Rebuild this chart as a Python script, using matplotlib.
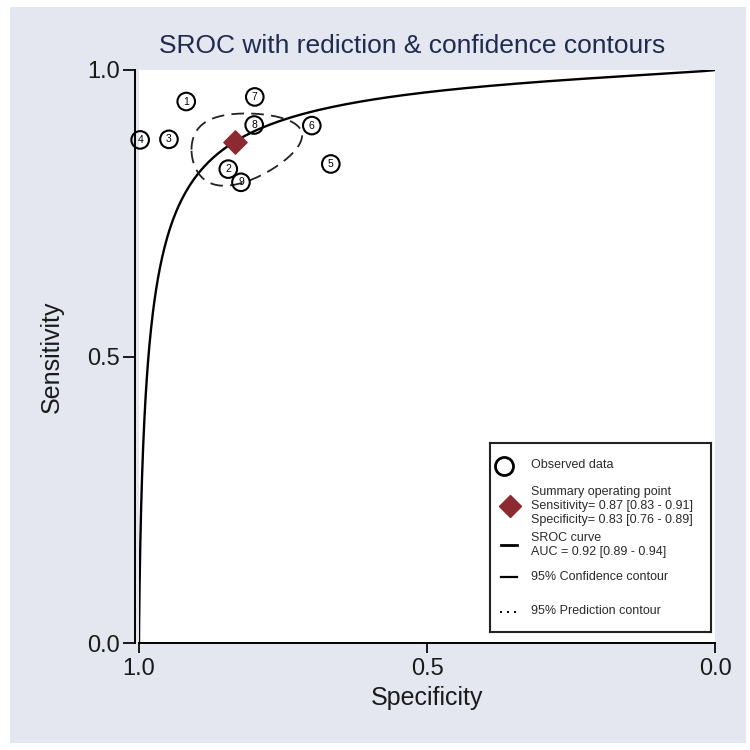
import numpy as np
import matplotlib
matplotlib.use("Agg")
import matplotlib.pyplot as plt
from matplotlib.patches import Rectangle

plt.rcParams['font.family'] = ['Liberation Sans', 'DejaVu Sans']

# ---------------- data ----------------
study_ids = [1, 2, 3, 4, 5, 6, 7, 8, 9]
specificity = [0.918, 0.845, 0.948, 0.998, 0.667, 0.700, 0.799, 0.800, 0.823]
sensitivity = [0.945, 0.827, 0.879, 0.878, 0.836, 0.903, 0.953, 0.904, 0.804]

summary_spec = 0.834
summary_sens = 0.874

# SROC curve: logit(sens) = alpha + beta * logit(1 - spec)
sroc_alpha = 3.21
sroc_beta = 0.784

# confidence contour (logit space)
se_logit_spec = 0.28
se_logit_sens = 0.23
rho_logit = -0.2
chi2_95_2df = 5.991

tick_values = [0.0, 0.5, 1.0]
tick_labels = ["0.0", "0.5", "1.0"]

title_text = "SROC with rediction & confidence contours"
legend_rows = [
    "Observed data",
    "Summary operating point\nSensitivity= 0.87 [0.83 - 0.91]\nSpecificity= 0.83 [0.76 - 0.89]",
    "SROC curve\nAUC = 0.92 [0.89 - 0.94]",
    "95% Confidence contour",
    "95% Prediction contour",
]

# ---------------- helpers ----------------
def logit(p):
    p = np.asarray(p, dtype=float)
    return np.log(p / (1 - p))

def expit(x):
    return 1 / (1 + np.exp(-x))

W, H = 750, 750
fig = plt.figure(figsize=(7.5, 7.5), dpi=100, facecolor='white')

# gray panel background
fig.patches.append(Rectangle((10 / W, 1 - 743 / H), 736 / W, 736 / H,
                             transform=fig.transFigure, facecolor='#e4e7ef',
                             edgecolor='none', zorder=-10))

ax = fig.add_axes([139 / W, 1 - 643 / H, 576 / W, 573 / H])
ax.set_facecolor('white')
ax.set_xlim(1.0, 0.0)
ax.set_ylim(0.0, 1.0)

for s in ['top', 'right']:
    ax.spines[s].set_visible(False)
ax.spines['left'].set_position(('outward', 3))
ax.spines['left'].set_linewidth(1.4)
ax.spines['bottom'].set_linewidth(1.4)

ax.set_xticks(tick_values)
ax.set_xticklabels(tick_labels)
ax.set_yticks(tick_values)
ax.set_yticklabels(tick_labels)
ax.tick_params(axis='y', length=8.5, width=1.4, labelsize=17, pad=2, colors='#1a1a1a')
ax.tick_params(axis='x', length=7, width=1.4, labelsize=17, pad=4, colors='#1a1a1a')

ax.set_xlabel("Specificity", fontsize=18, color='#1a1a1a', labelpad=4)
ax.set_ylabel("Sensitivity", fontsize=18, color='#1a1a1a', labelpad=17)

fig.text(412 / W, 1 - 46 / H, title_text, ha='center', va='center',
         fontsize=19, color='#1f2b4f')

# SROC curve
lfpr = np.linspace(-16, 12, 800)
fpr = expit(lfpr)
curve_sens = expit(sroc_alpha + sroc_beta * lfpr)
ax.plot(1 - fpr, curve_sens, color='black', lw=1.7, zorder=3, clip_on=True)

# confidence contour
t = np.linspace(0, 2 * np.pi, 400)
c = np.sqrt(chi2_95_2df)
ex = logit(summary_spec) + c * se_logit_spec * np.cos(t)
ey = logit(summary_sens) + c * se_logit_sens * (rho_logit * np.cos(t) + np.sqrt(1 - rho_logit ** 2) * np.sin(t))
ax.plot(expit(ex), expit(ey), color='#222222', lw=1.3, linestyle=(0, (7, 4)), zorder=3)

# observed data
ax.scatter(specificity, sensitivity, s=160, facecolors='none', edgecolors='black',
           linewidths=1.5, zorder=4, clip_on=False)
for sid, xs, ys in zip(study_ids, specificity, sensitivity):
    ax.text(xs, ys, str(sid), ha='center', va='center', fontsize=7.5, zorder=5)

# summary point
ax.scatter([summary_spec], [summary_sens], marker='D', s=140, color='#8b2a30',
           edgecolors='#8b2a30', zorder=6)

# ---------------- legend (manual box) ----------------
lx0, lx1, ly0, ly1 = 490, 711, 443, 632
lax = fig.add_axes([lx0 / W, 1 - ly1 / H, (lx1 - lx0) / W, (ly1 - ly0) / H])
lax.set_xlim(lx0, lx1)
lax.set_ylim(ly1, ly0)
lax.set_xticks([])
lax.set_yticks([])
lax.set_facecolor('white')
for s in lax.spines.values():
    s.set_linewidth(1.5)
    s.set_edgecolor('#222222')

text_x = 531
lfs = 9
lcol = '#2a2a2a'
# observed
lax.plot([504], [466], marker='o', ms=13, mfc='white', mec='black', mew=2)
lax.text(text_x, 465, legend_rows[0], fontsize=lfs, va='center', color=lcol)
# summary
lax.plot([510], [506], marker='D', ms=11, color='#8b2a30')
lax.text(text_x, 506, legend_rows[1], fontsize=lfs, va='center', color=lcol, linespacing=1.2)
# SROC
lax.plot([501, 517], [545, 545], color='black', lw=2)
lax.text(text_x, 545, legend_rows[2], fontsize=lfs, va='center', color=lcol, linespacing=1.2)
# confidence
lax.plot([501, 517], [577, 577], color='black', lw=1.6)
lax.text(text_x, 577, legend_rows[3], fontsize=lfs, va='center', color=lcol)
# prediction
lax.plot([500, 518], [612, 612], color='black', lw=1.4, linestyle=(0, (1, 2.6)))
lax.text(text_x, 611, legend_rows[4], fontsize=lfs, va='center', color=lcol)

fig.savefig("out.png", dpi=100, facecolor='white')
